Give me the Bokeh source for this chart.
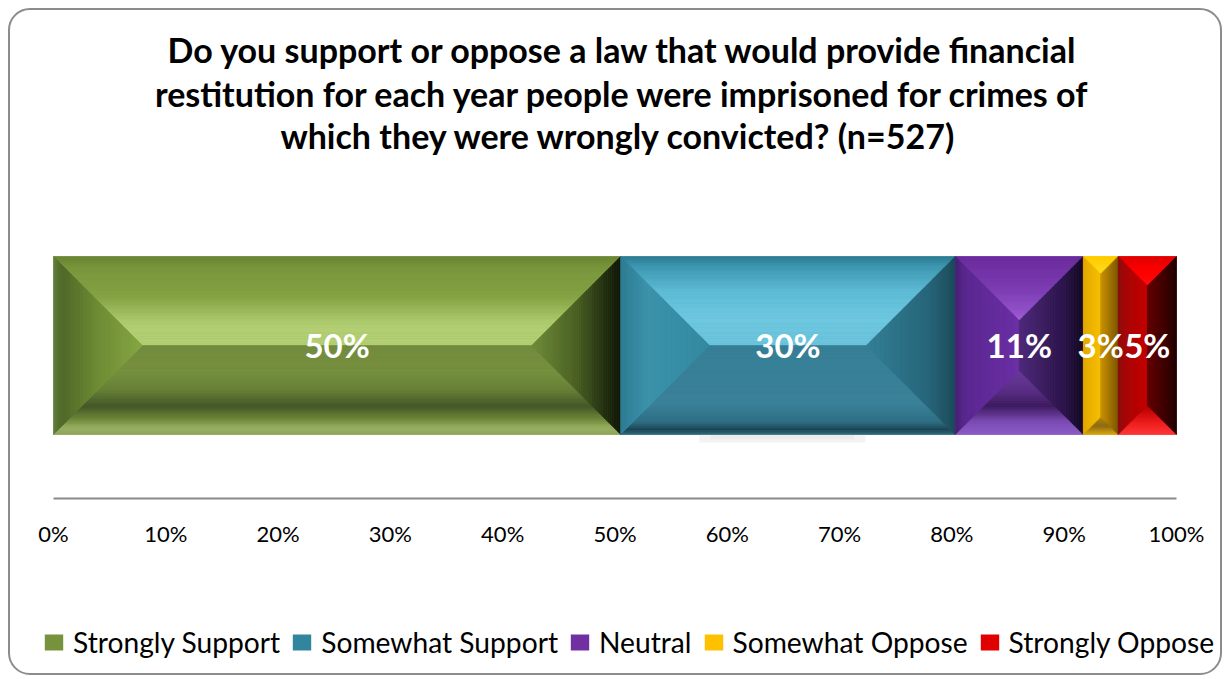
from bokeh.plotting import figure
from bokeh.models import Range1d, FixedTicker, PrintfTickFormatter, Legend, LegendItem, ColumnDataSource, Label, LinearAxis
from bokeh.core.properties import value
from bokeh.embed import file_html
from bokeh.resources import INLINE

# ---------------- data ----------------
title_lines = [
    "Do you support or oppose a law that would provide financial",
    "restitution for each year people were imprisoned for crimes of",
    "which they were wrongly convicted?  (n=527)",
]
categories = ["Strongly Support", "Somewhat Support", "Neutral", "Somewhat Oppose", "Strongly Oppose"]
shares = [50.5, 29.8, 11.4, 3.1, 5.2]          # width of each segment (percent of bar)
labels = ["50%", "30%", "11%", "3%", "5%"]      # data labels as printed
tick_values = [0, 10, 20, 30, 40, 50, 60, 70, 80, 90, 100]

# ---------------- styles ----------------
base_colors = ["#76923c", "#31859c", "#7030a0", "#ffc000", "#e00000"]
facet_stops = {
    "Strongly Support": {
        "top": [(0, "#6a8433"), (0.15, "#7a983d"), (0.45, "#83a243"), (0.7, "#a9c769"), (0.8, "#b3cf73"), (1, "#b3cf73")],
        "bottom": [(0, "#8ea55a"), (0.08, "#98b062"), (0.18, "#6d8638"), (0.32, "#435527"), (0.5, "#667f36"), (0.7, "#76903f"), (1, "#738b3e")],
        "left": [(0, "#62803a"), (0.1, "#4e6828"), (0.5, "#6e8c35"), (1, "#86a743")],
        "right": [(0, "#0f1508"), (0.15, "#1f2a10"), (0.5, "#4a6024"), (1, "#6f8c38")],
    },
    "Somewhat Support": {
        "top": [(0, "#2b7a90"), (0.12, "#3f98b2"), (0.4, "#5fbcd6"), (0.7, "#6ec8e0"), (1, "#6bc4dc")],
        "bottom": [(0, "#2f6b80"), (0.06, "#1e4656"), (0.15, "#2f6f85"), (0.35, "#3a8199"), (1, "#377f96")],
        "left": [(0, "#2c7c93"), (0.3, "#3c93ab"), (1, "#338aa1")],
        "right": [(0, "#1c4a58"), (0.3, "#276579"), (1, "#347f95")],
    },
    "Neutral": {
        "top": [(0, "#6a2c9c"), (0.5, "#7c3cb2"), (0.9, "#9555cc"), (1, "#a366dc")],
        "bottom": [(0, "#8a5ec4"), (0.2, "#7d4db6"), (0.45, "#3e1c5e"), (0.7, "#5a3086"), (1, "#6a3a9a")],
        "left": [(0, "#452070"), (0.15, "#5a2890"), (1, "#6c30a6")],
        "right": [(0, "#120a1e"), (0.3, "#2a1548"), (1, "#4e2a7a")],
    },
    "Somewhat Oppose": {
        "top": [(0, "#ffcc00"), (1, "#ffdc20")],
        "bottom": [(0, "#e0aa10"), (0.5, "#8e6c14"), (1, "#b08410")],
        "left": [(0, "#e3a900"), (1, "#f7c000")],
        "right": [(0, "#7a5600"), (1, "#c89200")],
    },
    "Strongly Oppose": {
        "top": [(0, "#e00000"), (0.5, "#ff0000"), (1, "#ff1010")],
        "bottom": [(0, "#ff3b3b"), (0.4, "#f02020"), (1, "#b00000")],
        "left": [(0, "#8a1010"), (0.3, "#a80808"), (1, "#c40000")],
        "right": [(0, "#1a0000"), (0.4, "#3a0000"), (1, "#600000")],
    },
}

# ---------------- layout (pixels inside the bordered canvas) ----------------
W, H = 1214, 667            # canvas size; the 2px CSS border is drawn outside it
CW, CH = W, H
X0_PX, X100_PX = 43.0, 1166.0
BAR_TOP, BAR_BOTTOM = 246.0, 424.0
AXIS_Y = 488.0
TITLE_Y = [39.0, 83.0, 125.0]
TITLE_CENTER_PX = 612.5
x_px = (X100_PX - X0_PX) / 100.0

def hex2rgb(h):
    h = h.lstrip("#")
    return tuple(int(h[i:i + 2], 16) for i in (0, 2, 4))

def interp(stops, t):
    for (t0, c0), (t1, c1) in zip(stops[:-1], stops[1:]):
        if t <= t1:
            f = 0 if t1 == t0 else (t - t0) / (t1 - t0)
            a, b = hex2rgb(c0), hex2rgb(c1)
            return "#%02x%02x%02x" % tuple(int(round(a[i] + (b[i] - a[i]) * f)) for i in range(3))
    return stops[-1][1]

p = figure(width=W, height=H,
           x_range=Range1d(-X0_PX / x_px, 100 + (CW - X100_PX) / x_px),
           y_range=Range1d(CH, 0),
           output_backend="svg", toolbar_location=None,
           x_axis_location=None, y_axis_location=None,
           min_border=0)
p.xgrid.visible = False
p.ygrid.visible = False
p.outline_line_color = None
p.background_fill_color = None
p.border_fill_color = None
p.styles = {"border": "2px solid #8c8c8c", "border-radius": "22px", "margin": "8px 0 0 8px"}

# title
title_x = (TITLE_CENTER_PX - X0_PX) / x_px
for line, yb in zip(title_lines, TITLE_Y):
    p.add_layout(Label(x=title_x, y=yb, text=line, text_align="center", text_baseline="alphabetic",
                       text_font="Lato", text_font_style="bold", text_font_size="34px", text_color="black"))

# segment bounds
lefts, rights = [], []
acc = 0.0
for v in shares:
    lefts.append(acc)
    acc += v
    rights.append(acc)
centers = [(a + b) / 2 for a, b in zip(lefts, rights)]

legend_items = []
for cat, l, r, c in zip(categories, lefts, rights, base_colors):
    rr = p.quad(left=[l], right=[r], top=[BAR_TOP], bottom=[BAR_BOTTOM], fill_color=c, line_color=None)
    legend_items.append(LegendItem(label=cat, renderers=[rr]))

# faint drop shadow under the bar
p.quad(left=[lefts[1] + 7], right=[rights[1] - 8], top=[BAR_BOTTOM], bottom=[BAR_BOTTOM + 8],
       fill_color="#f3f3f3", line_color=None)
p.quad(left=[lefts[1] + 8], right=[rights[1] - 9], top=[BAR_BOTTOM], bottom=[BAR_BOTTOM + 5],
       fill_color="#ebebeb", line_color=None)

# bevel facets
xs, ys, cols = [], [], []
N = 40
Ty, By = BAR_TOP, BAR_BOTTOM
for cat, l, r in zip(categories, lefts, rights):
    wpx = (r - l) * x_px
    d = min(wpx, By - Ty) / 2.0
    st = facet_stops[cat]
    for k in range(N):
        s0, s1 = d * k / N, d * (k + 1) / N
        tm = (k + 0.5) / N
        ax0, ax1 = s0 / x_px, s1 / x_px
        xs.append([l + ax0, r - ax0, r - ax1, l + ax1]); ys.append([Ty + s0, Ty + s0, Ty + s1, Ty + s1]); cols.append(interp(st["top"], tm))
        xs.append([l + ax0, r - ax0, r - ax1, l + ax1]); ys.append([By - s0, By - s0, By - s1, By - s1]); cols.append(interp(st["bottom"], tm))
        xs.append([l + ax0, l + ax0, l + ax1, l + ax1]); ys.append([Ty + s0, By - s0, By - s1, Ty + s1]); cols.append(interp(st["left"], tm))
        xs.append([r - ax0, r - ax0, r - ax1, r - ax1]); ys.append([Ty + s0, By - s0, By - s1, Ty + s1]); cols.append(interp(st["right"], tm))

p.patches(xs="xs", ys="ys", fill_color="c", line_color="c", line_width=0.6,
          source=ColumnDataSource(dict(xs=xs, ys=ys, c=cols)))

p.text(x=centers, y=[(Ty + By) / 2] * len(centers), text=labels, text_color="white",
       text_font=value("Lato"), text_font_style="bold", text_font_size="33px",
       text_align="center", text_baseline="middle", y_offset=-1)

ax = LinearAxis(fixed_location=AXIS_Y, bounds=(0, 100))
ax.ticker = FixedTicker(ticks=tick_values)
ax.formatter = PrintfTickFormatter(format="%d%%")
ax.axis_line_color = "#8a8a8a"
ax.axis_line_width = 2
ax.major_tick_line_color = None
ax.minor_tick_line_color = None
ax.major_label_standoff = 15
ax.major_label_text_font = "Lato"
ax.major_label_text_font_size = "22px"
ax.major_label_text_color = "black"
p.add_layout(ax, "below")

legend = Legend(items=legend_items, orientation="horizontal", location=(32, 18),
                border_line_color=None, background_fill_alpha=0,
                label_text_font="Lato", label_text_font_size="28.2px", label_text_color="black",
                glyph_width=23, glyph_height=20, spacing=10, label_standoff=8, padding=0, margin=0)
p.add_layout(legend, "center")

open("out.html", "w").write(file_html(p, INLINE))
